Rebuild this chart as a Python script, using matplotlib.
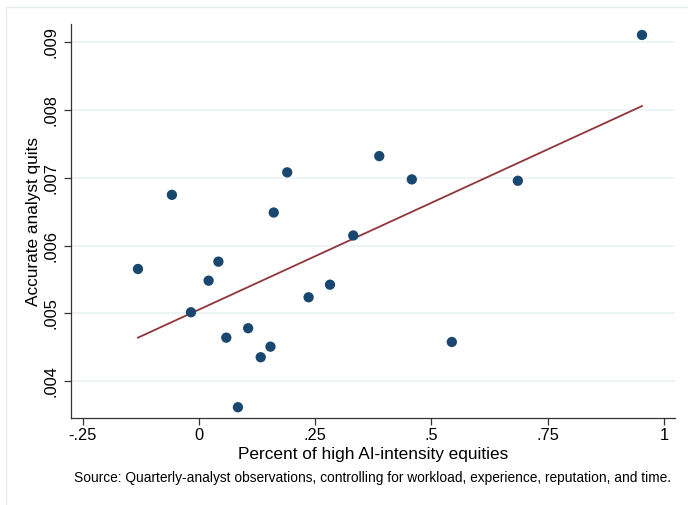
#!/usr/bin/env python3
"""
Scatter of accurate analyst quits against the share of high AI-intensity
equities, with a linear fit line (Stata-like styling).
"""

import numpy as np
import matplotlib.pyplot as plt
from matplotlib.patches import Rectangle

plt.rcParams["font.family"] = ["Liberation Sans", "DejaVu Sans"]

# binned scatter points
pct_high_ai = [-0.131, -0.058, -0.017, 0.021, 0.042, 0.059, 0.084, 0.106,
               0.133, 0.154, 0.161, 0.190, 0.236, 0.282, 0.332, 0.388,
               0.458, 0.544, 0.686, 0.953]
quits = [0.005654, 0.006748, 0.005015, 0.005481, 0.005762, 0.004640,
         0.003613, 0.004779, 0.004351, 0.004507, 0.006487, 0.007080,
         0.005236, 0.005422, 0.006148, 0.007320, 0.006976, 0.004576,
         0.006956, 0.009108]

# fitted line end points
fit_x = [-0.131, 0.953]
fit_y = [0.004640, 0.008059]

x_ticks = [-0.25, 0, 0.25, 0.5, 0.75, 1]
x_labels = ["-.25", "0", ".25", ".5", ".75", "1"]
y_ticks = [0.004, 0.005, 0.006, 0.007, 0.008, 0.009]
y_labels = [".004", ".005", ".006", ".007", ".008", ".009"]

NAVY = "#1a476f"
MAROON = "#90353b"
GRID = "#eaf2f3"


def main() -> None:
    fig = plt.figure(figsize=(6.88, 5.05), dpi=100)
    fig.patches.append(
        Rectangle((6 / 688, -0.02), 1.0, 1 - 7 / 505 + 0.02,
                  transform=fig.transFigure, fill=False,
                  edgecolor="#e6ecee", linewidth=1.0)
    )
    ax = fig.add_axes([71 / 688, 87 / 505, 604 / 688, 394 / 505])

    ax.plot(fit_x, fit_y, color=MAROON, linewidth=1.3, zorder=2)
    ax.scatter(pct_high_ai, quits, s=55, color=NAVY, edgecolors="none", zorder=3)

    ax.set_xlim(-0.275, 1.024)
    ax.set_ylim(0.003454, 0.00927)

    ax.set_xticks(x_ticks)
    ax.set_xticklabels(x_labels, fontsize=11.8)
    ax.set_yticks(y_ticks)
    ax.set_yticklabels(y_labels, fontsize=11.8, rotation=90, va="center")
    ax.tick_params(axis="both", length=5, width=0.9, color="#333333")
    ax.tick_params(axis="x", pad=2)
    ax.tick_params(axis="y", pad=4)

    ax.grid(axis="y", color=GRID, linewidth=1.2)
    ax.set_axisbelow(True)
    for side in ("top", "right"):
        ax.spines[side].set_visible(False)
    for side in ("left", "bottom"):
        ax.spines[side].set_color("#333333")
        ax.spines[side].set_linewidth(0.9)

    ax.set_xlabel("Percent of high AI-intensity equities", fontsize=12.4, labelpad=3)
    ax.set_ylabel("Accurate analyst quits", fontsize=12.4)
    ax.yaxis.set_label_coords(-0.05, 0.5)

    fig.text(74 / 688, 1 - 478 / 505,
             "Source: Quarterly-analyst observations, controlling for workload, "
             "experience, reputation, and time.",
             fontsize=9.9, ha="left", va="center")

    fig.savefig("out.png", dpi=100)
    plt.close(fig)


if __name__ == "__main__":
    main()
